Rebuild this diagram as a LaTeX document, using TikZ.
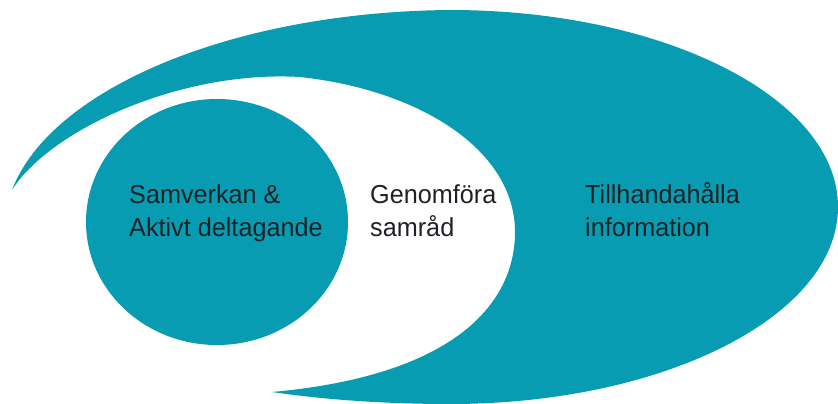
\documentclass[tikz,border=0pt]{standalone}
\usepackage{fontspec}
\setmainfont[FakeStretch=0.97]{Liberation Sans}
\definecolor{tealc}{RGB}{8,156,178}
\definecolor{txt}{RGB}{30,34,38}
\begin{document}
\begin{tikzpicture}[x=1pt,y=-1pt,
  lbl/.style={anchor=base west,align=left,text=txt,inner sep=0pt,
    font=\fontsize{26}{33}\selectfont}]
\useasboundingbox (0,0) rectangle (838,404);
% crescent
\fill[tealc] (12,190) .. controls (50,90) and (230,12) .. (450,10)
  .. controls (664,10) and (838,98) .. (838,207)
  .. controls (838,316) and (664,404) .. (450,404)
  .. controls (380,404) and (320,399) .. (272,392)
  .. controls (460,375) and (515,300) .. (515,232)
  .. controls (515,150) and (420,90) .. (300,77)
  .. controls (180,70) and (50,130) .. (12,190) -- cycle;
% circle
\fill[tealc] (217,222) ellipse [x radius=131, y radius=123];
\node[lbl] (a) at (129,236) {Samverkan \&\\Aktivt deltagande};
\node[lbl] (b) at (370,236) {Genomföra\\samråd};
\node[lbl] (c) at (585,236) {Tillhandahålla\\information};
\end{tikzpicture}
\end{document}
